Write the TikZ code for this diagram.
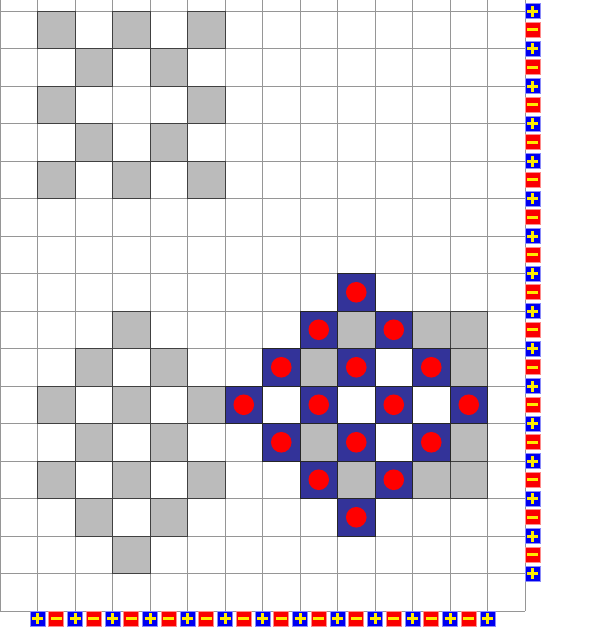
\documentclass[tikz,border=0pt]{standalone}
\usepackage{tikz}
\usetikzlibrary{positioning}
\definecolor{CellGray}{RGB}{187,187,187}
\definecolor{TileBlue}{RGB}{51,51,153}
\definecolor{LineGray}{RGB}{150,150,150}
\definecolor{SignBlue}{RGB}{0,0,240}
\definecolor{SignRed}{RGB}{250,0,0}
\definecolor{SignYellow}{RGB}{255,235,0}

\begin{document}
\begin{tikzpicture}[x=1pt, y=-1pt,
  gridline/.style={draw=LineGray, line width=1pt},
  graycell/.style={fill=CellGray, draw=black!75, line width=0.9pt},
  bluecell/.style={fill=TileBlue, draw=black!85, line width=0.9pt},
  reddot/.style={fill=red},
  plusbox/.style={rectangle, fill=SignBlue, draw=SignBlue!45, line width=0.6pt,
    minimum size=15pt, inner sep=0pt},
  minusbox/.style={rectangle, fill=SignRed, draw=SignRed!45, line width=0.6pt,
    minimum size=15pt, inner sep=0pt},
  signbar/.style={draw=SignYellow, line width=3pt},
]
\useasboundingbox (0,0) rectangle (595,630);
\clip (0,0) rectangle (595,630);
% Grid
\foreach \c in {0,...,14}
  \draw[gridline] ({\c*37.5},0) -- ({\c*37.5},611);
\foreach \r in {0,...,16}
  \draw[gridline] (0,{11+\r*37.5}) -- (525,{11+\r*37.5});
% Gray cells
\foreach \c/\r in {1/0,3/0,5/0,2/1,4/1,1/2,5/2,2/3,4/3,1/4,3/4,5/4,
    3/8,2/9,4/9,1/10,3/10,5/10,2/11,4/11,1/12,3/12,5/12,2/13,4/13,3/14,
    9/8,11/8,12/8,8/9,12/9,8/11,12/11,9/12,11/12,12/12}
  \draw[graycell] ({\c*37.5},{11+\r*37.5}) rectangle ++(37.5,37.5);
% Blue tiles with dots
\foreach \c/\r in {9/7,8/8,10/8,7/9,9/9,11/9,6/10,8/10,10/10,12/10,
    7/11,9/11,11/11,8/12,10/12,9/13} {
  \draw[bluecell] ({\c*37.5},{11+\r*37.5}) rectangle ++(37.5,37.5);
  \fill[reddot] ({\c*37.5+18.75},{29.75+\r*37.5}) circle (10.3pt);
}
% Right column signs
\foreach \k in {0,...,15} {
  \node[plusbox] (rp\k) at (532.5,{11+\k*37.5}) {};
  \draw[signbar] ([xshift=-5.5pt]rp\k.center) -- ([xshift=5.5pt]rp\k.center)
    ([yshift=-5.5pt]rp\k.center) -- ([yshift=5.5pt]rp\k.center);
}
\foreach \k in {0,...,14} {
  \node[minusbox] (rm\k) at (532.5,{29.75+\k*37.5}) {};
  \draw[signbar] ([xshift=-5.5pt]rm\k.center) -- ([xshift=5.5pt]rm\k.center);
}
% Bottom row signs
\foreach \k in {1,...,13} {
  \node[plusbox] (bp\k) at ({\k*37.5},618.5) {};
  \draw[signbar] ([xshift=-5.5pt]bp\k.center) -- ([xshift=5.5pt]bp\k.center)
    ([yshift=-5.5pt]bp\k.center) -- ([yshift=5.5pt]bp\k.center);
}
\foreach \k in {1,...,12} {
  \node[minusbox] (bm\k) at ({\k*37.5+18.75},618.5) {};
  \draw[signbar] ([xshift=-5.5pt]bm\k.center) -- ([xshift=5.5pt]bm\k.center);
}
\end{tikzpicture}
\end{document}
